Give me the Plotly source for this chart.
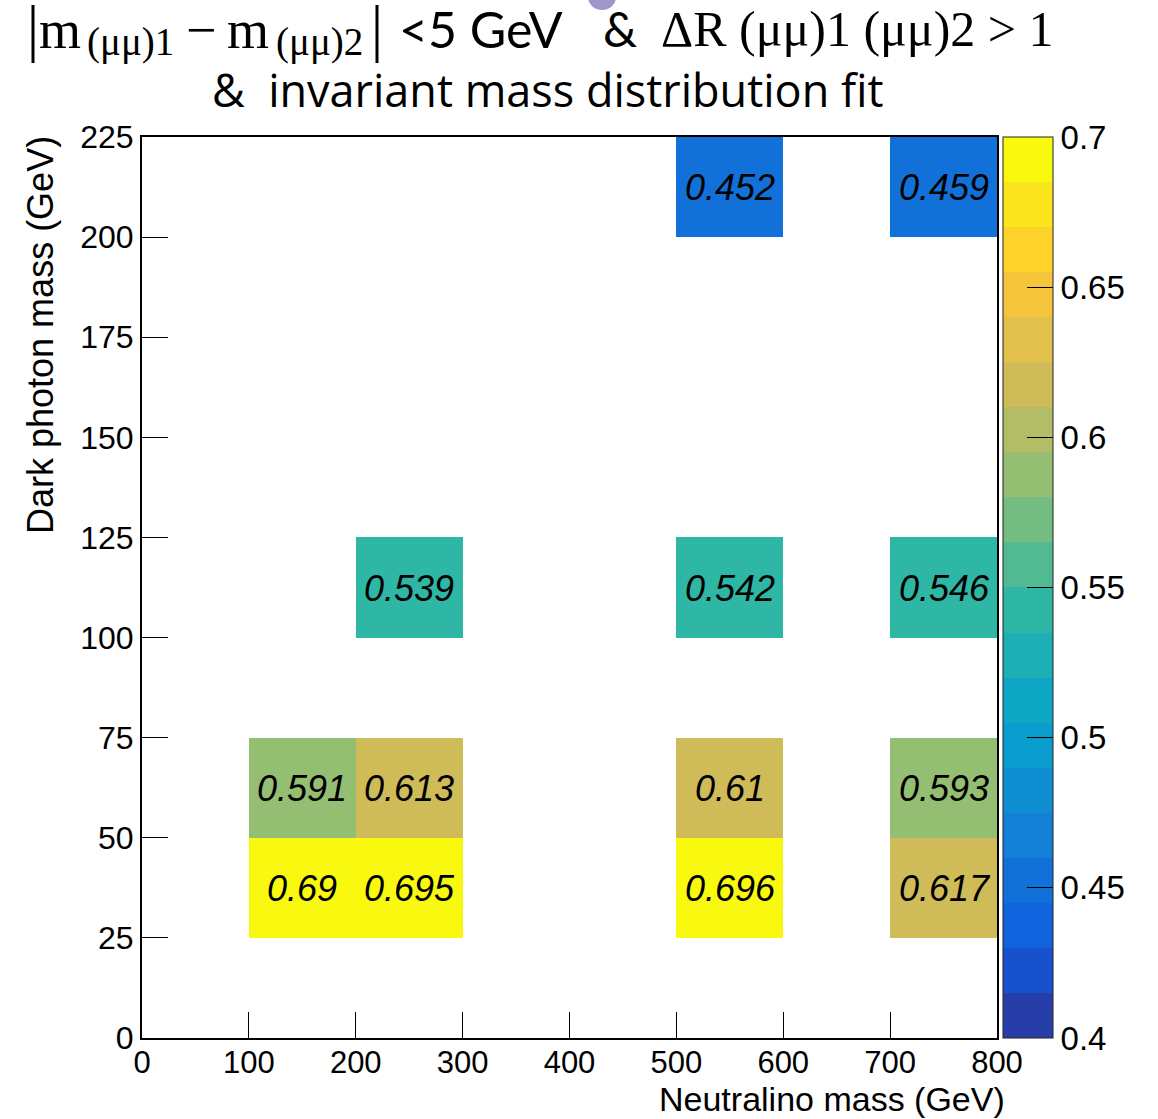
import plotly.graph_objects as go
import numpy as np

# ---- data: selection efficiency per (neutralino, dark photon) mass bin ----
neutralino_bin_lo = [100, 100, 200, 200, 200, 500, 500, 500, 500, 700, 700, 700, 700]
darkphoton_bin_lo = [25, 50, 25, 50, 100, 25, 50, 100, 200, 25, 50, 100, 200]
efficiency = [0.690, 0.591, 0.695, 0.613, 0.539, 0.696, 0.610, 0.542, 0.452,
              0.617, 0.593, 0.546, 0.459]

x_edges = list(range(0, 801, 100))
y_edges = list(range(0, 226, 25))
z_min, z_max, n_levels = 0.4, 0.7, 20
cbar_ticks = [0.4, 0.45, 0.5, 0.55, 0.6, 0.65, 0.7]
cbar_ticktext = ["0.4", "0.45", "0.5", "0.55", "0.6", "0.65", "0.7"]

# ---- fill the 2D histogram grid ----
nx, ny = len(x_edges) - 1, len(y_edges) - 1
z = [[None] * nx for _ in range(ny)]
txt = [[""] * nx for _ in range(ny)]
for xl, yl, v in zip(neutralino_bin_lo, darkphoton_bin_lo, efficiency):
    i = x_edges.index(xl)
    j = y_edges.index(yl)
    z[j][i] = v
    txt[j][i] = f"{v:g}"

# ---- ROOT kBird palette, quantised into 20 contour bands ----
stops = [0.0, 0.125, 0.25, 0.375, 0.5, 0.625, 0.75, 0.875, 1.0]
red = [0.2082, 0.0592, 0.0780, 0.0232, 0.1802, 0.5301, 0.8186, 0.9956, 0.9764]
green = [0.1664, 0.3599, 0.5041, 0.6419, 0.7178, 0.7492, 0.7328, 0.7862, 0.9832]
blue = [0.5293, 0.8684, 0.8385, 0.7914, 0.6425, 0.4662, 0.3499, 0.1968, 0.0539]


def bird(f):
    r = np.interp(f, stops, red)
    g = np.interp(f, stops, green)
    b = np.interp(f, stops, blue)
    return f"rgb({int(round(r*255))},{int(round(g*255))},{int(round(b*255))})"


colorscale = []
for k in range(n_levels):
    idx = int((k + 0.99) * 255 / n_levels)
    c = bird(idx / 255)
    colorscale.append([k / n_levels, c])
    colorscale.append([(k + 1) / n_levels, c])

# ---- geometry helpers (pixel -> paper) ----
L, R, T, B = 142, 997, 137, 1038
W, H = 1158, 1119


def px(x):
    return (x - L) / (R - L)


def py(y):
    return (B - y) / (B - T)


fig = go.Figure()
fig.add_trace(go.Heatmap(
    x=x_edges, y=y_edges, z=z, text=txt, texttemplate="%{text}",
    textfont=dict(family="Liberation Sans", size=36, color="black", style="italic"),
    zmin=z_min, zmax=z_max, colorscale=colorscale, hoverongaps=False,
    colorbar=dict(
        x=px(1003), xanchor="left", xpad=0, y=0.5, yanchor="middle", ypad=0,
        len=1, lenmode="fraction", thickness=50, thicknessmode="pixels",
        outlinewidth=1, outlinecolor="#222",
        tickmode="array", tickvals=cbar_ticks, ticktext=cbar_ticktext,
        ticks="inside", ticklen=26, tickwidth=1, tickcolor="black",
        tickfont=dict(family="Liberation Sans", size=33, color="black"),
    ),
))

axis_common = dict(
    showgrid=False, zeroline=False, showline=True, mirror=True,
    linecolor="black", linewidth=2, ticks="inside", ticklen=26,
    tickwidth=1, tickcolor="black",
    tickfont=dict(family="Liberation Sans", size=32, color="black"),
)
fig.update_xaxes(range=[0, 800], tickvals=x_edges, **axis_common)
fig.update_xaxes(tickfont=dict(family="Liberation Sans", size=31, color="black"),
                 ticklabelstandoff=-4)
fig.update_yaxes(range=[0, 225], tickvals=y_edges, **axis_common)

serif = "Liberation Serif"
sans = "Lato"
ann = []


def add(text, x, y, size, family, xanchor="left", yanchor="middle", angle=0):
    ann.append(dict(text=text, x=px(x), y=py(y), xref="paper", yref="paper",
                    xanchor=xanchor, yanchor=yanchor, showarrow=False,
                    textangle=angle, borderpad=0,
                    font=dict(family=family, size=size, color="black")))


# title, first line
add("m", 38, 30, 54, serif)
add("(μμ)1", 86, 42, 39, serif)
add("−", 185, 30, 54, serif)
add("m", 226, 30, 54, serif)
add("(μμ)2", 275, 42, 39, serif)
add("<5 GeV", 398, 29, 50, sans)
add("&", 602, 29, 48, sans)
add("ΔR (μμ)1 (μμ)2 > 1", 660, 29, 50, serif)
# title, second line
add("&  invariant mass distribution fit", 547, 89, 45, "Open Sans", xanchor="center")

# axis titles
add("Neutralino mass (GeV)", 1006, 1099, 34, "Liberation Sans", xanchor="right")
add("Dark photon mass (GeV)", 40, 135, 36, "Liberation Sans",
    xanchor="center", yanchor="top", angle=-90)

shapes = [
    dict(type="line", xref="paper", yref="paper", x0=px(33), x1=px(33),
         y0=py(5), y1=py(63), line=dict(color="black", width=3)),
    dict(type="line", xref="paper", yref="paper", x0=px(377), x1=px(377),
         y0=py(5), y1=py(63), line=dict(color="black", width=3)),
    dict(type="circle", xref="paper", yref="paper", x0=px(588), x1=px(616),
         y0=py(10), y1=py(-16), fillcolor="#9f97c8", line=dict(width=0)),
]

fig.update_layout(
    width=W, height=H,
    margin=dict(l=L, r=W - R, t=T, b=H - B, autoexpand=False),
    paper_bgcolor="white", plot_bgcolor="white",
    annotations=ann, shapes=shapes, showlegend=False,
)

fig.write_html("out.html")
